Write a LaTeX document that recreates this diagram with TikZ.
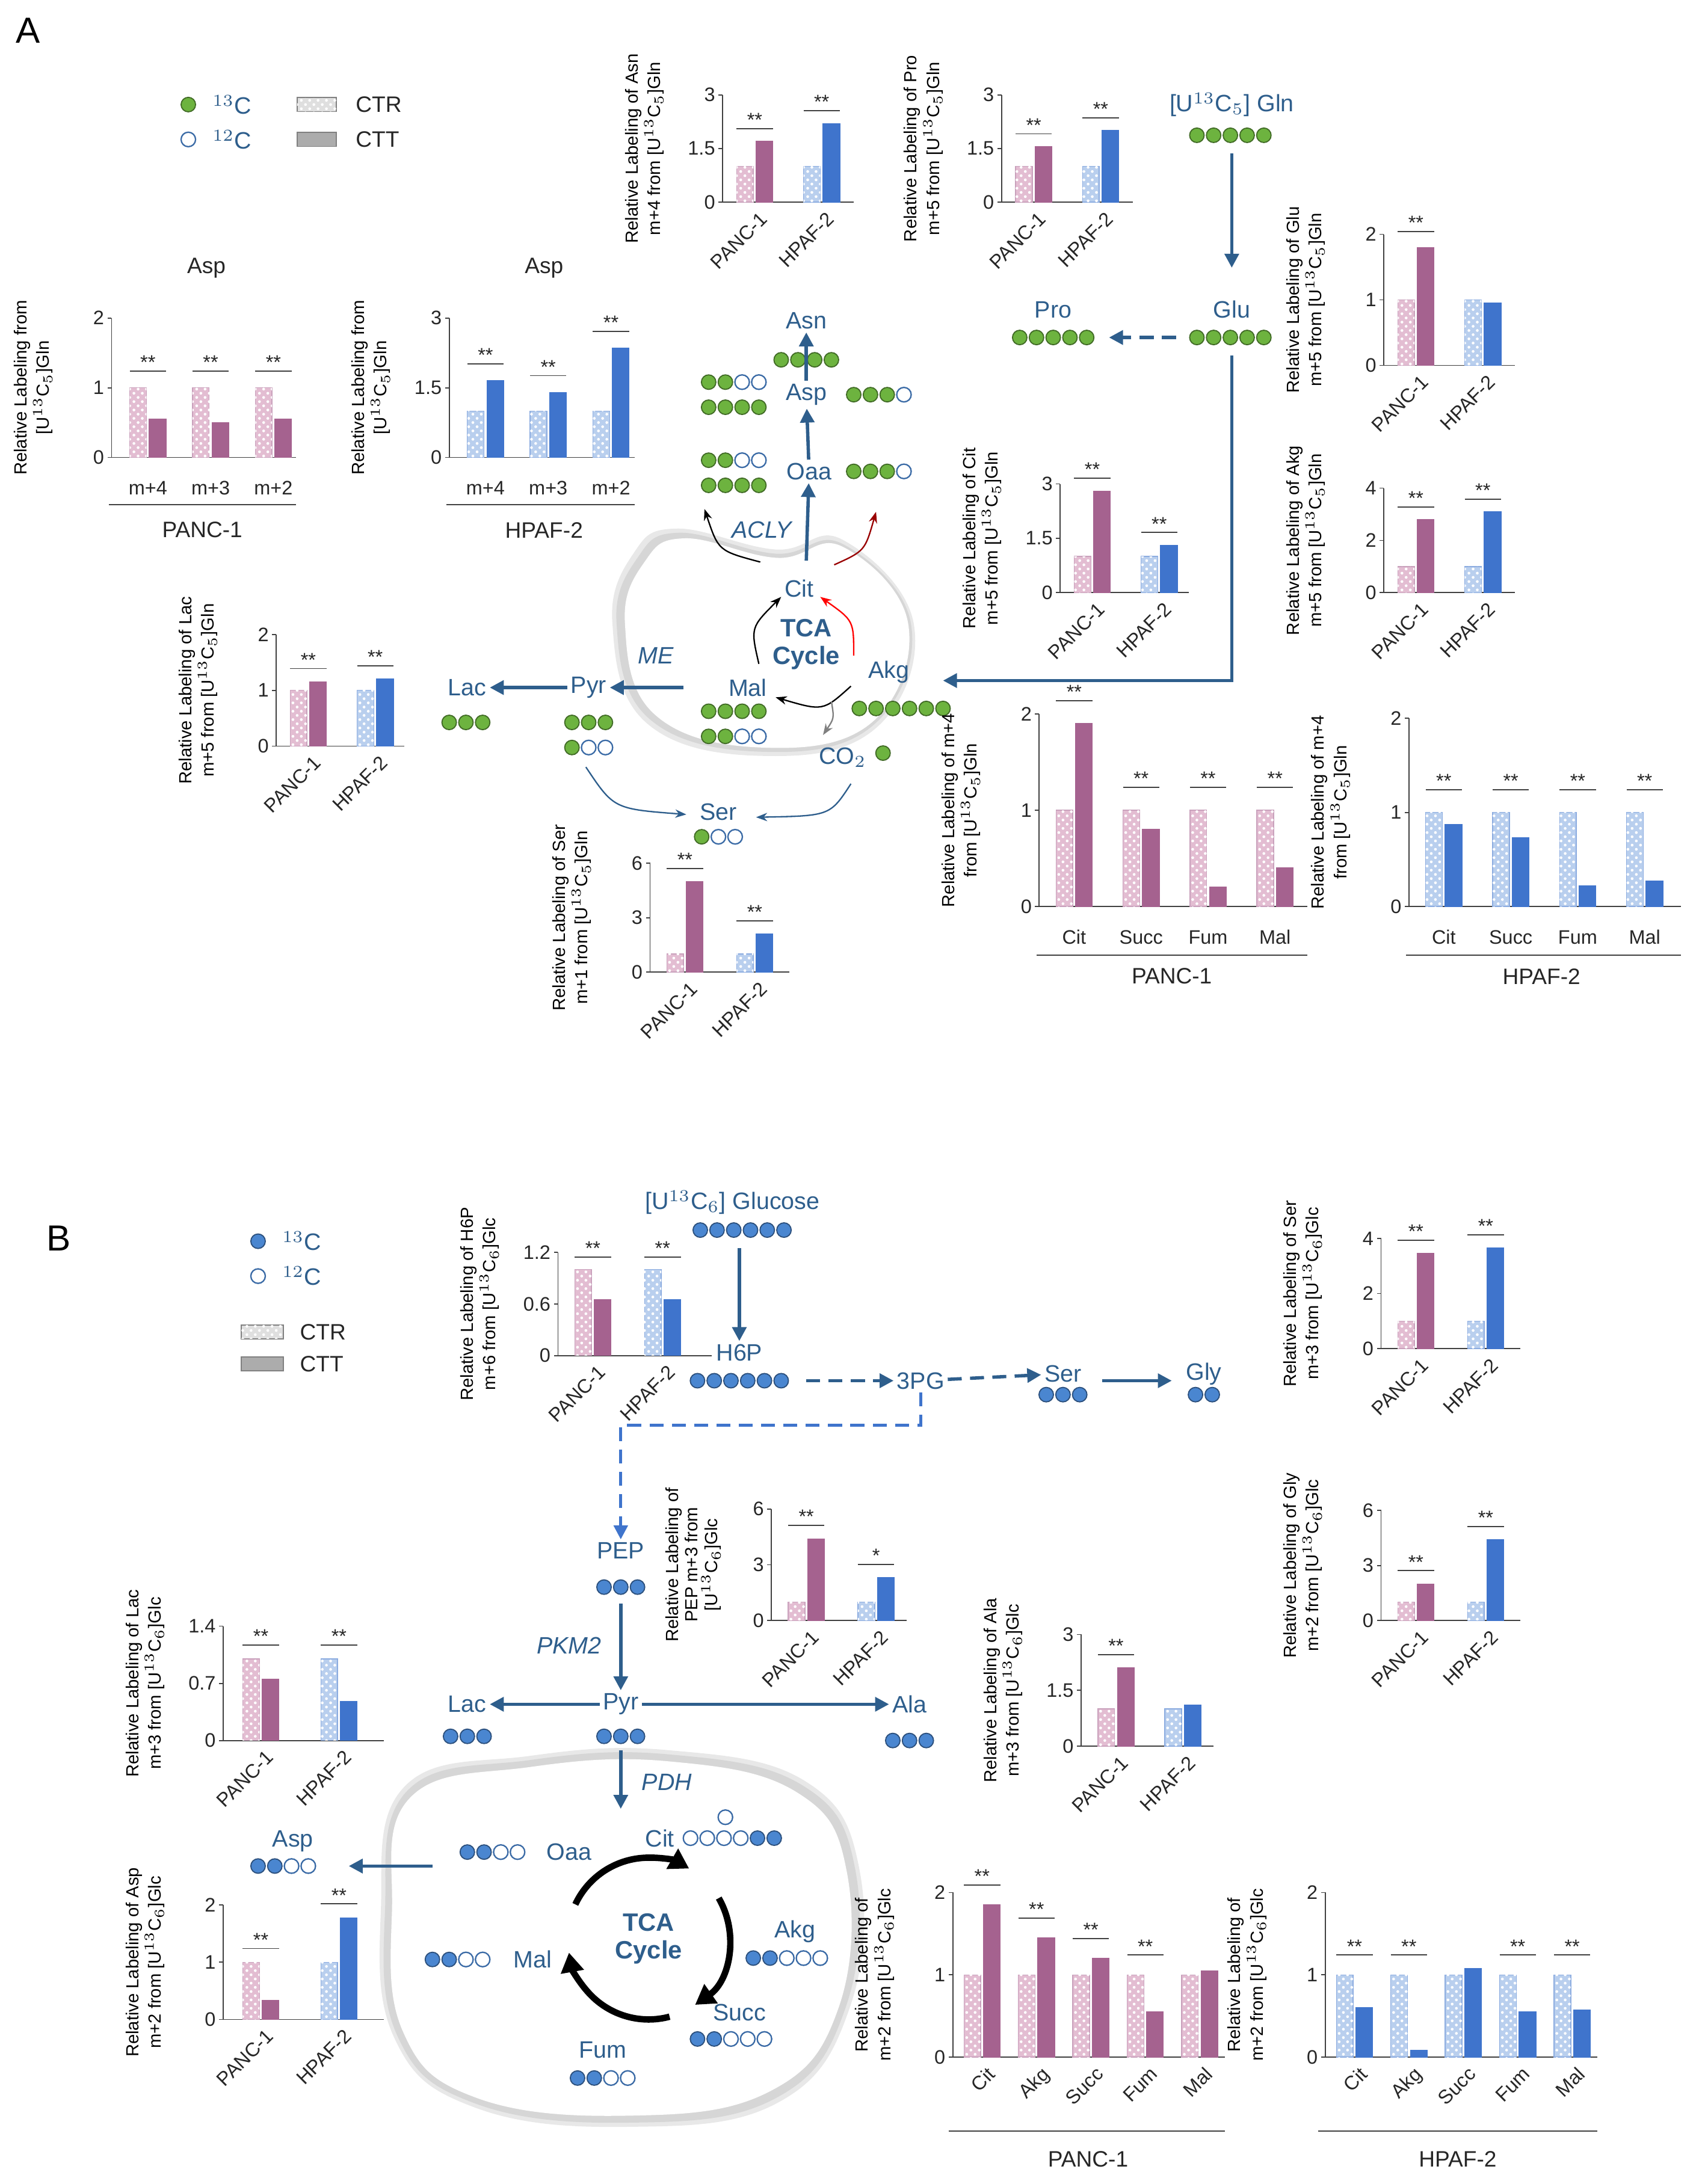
\documentclass[tikz,border=0pt]{standalone}
\usepackage{fontspec}\setmainfont{Liberation Sans}
\usetikzlibrary{arrows.meta,patterns}
\definecolor{tb}{HTML}{2E5E8C}\definecolor{gr}{HTML}{6DB33F}\definecolor{bl}{HTML}{4A86D0}
\definecolor{pk}{HTML}{E3BDD2}\definecolor{pu}{HTML}{A5628F}\definecolor{lb}{HTML}{B9CFEE}\definecolor{db}{HTML}{3F74CC}
\tikzset{ctrp/.style={fill=pk,draw=pu!60,line width=0.3pt,postaction={pattern=crosshatch dots,pattern color=white}},
cttp/.style={fill=pu,draw=pu,line width=0.3pt},
ctrb/.style={fill=lb,draw=db!60,line width=0.3pt,postaction={pattern=crosshatch dots,pattern color=white}},
cttb/.style={fill=db,draw=db,line width=0.3pt},
ax/.style={line width=0.4pt,black!75},tk/.style={font=\fontsize{7}{8}\selectfont,text=black!85},
yl/.style={font=\fontsize{6.3}{7}\selectfont,rotate=90,align=center},
pw/.style={text=tb,font=\fontsize{8.5}{10}\selectfont,inner sep=1pt},
fl/.style={-{Triangle[length=5pt,width=5pt]},tb,line width=1.2pt},
dl/.style={fl,dash pattern=on 5pt off 3pt},
thn/.style={-{Stealth[length=4pt]},line width=0.5pt}}
\newcommand\chart[8]{\begin{scope}[shift={(#1,#2)},x=0.5pt,y={#4*0.5pt/#5}]\def\ym{#5}
\draw[ax] (#3,0)--(0,0)--(0,#5);
\foreach \t in {#6}{\draw[ax] (0,\t)--(-3,\t) node[left,tk,inner sep=1pt]{\t};}
\node[yl] at (-56,#5/2) {#7};
#8\end{scope}}
\newcommand\pr[5]{\draw[ctr#4] (#1,0) rectangle (#1+12,#2); \draw[ctt#4] (#1+14,0) rectangle (#1+26,#3);
\if\relax\detokenize{#5}\relax\else\pgfmathsetmacro\sy{max(#2,#3)+0.12*\ym}
\draw[ax] (#1,\sy)--(#1+26,\sy) node[midway,above,inner sep=0.5pt,tk]{#5};\fi}
\newcommand\xl[2]{\node[tk,rotate=45,anchor=north east,inner sep=1pt,yshift=-2pt] at (#1,0) {#2};}
\newcommand\beads[4]{\foreach \b [count=\i from 0] in {#3}{\ifnum\b=1
\filldraw[fill=#4,draw=#4!60!black,line width=0.4pt] (#1+\i*12,#2) circle[radius=5.2];\else
\filldraw[fill=white,draw=bl!80!black,line width=0.5pt] (#1+\i*12,#2) circle[radius=5.2];\fi}}
\begin{document}
\begin{tikzpicture}[x=0.5pt,y=-0.5pt]
\useasboundingbox (0,0) rectangle (1220,1566);
% ===== A =====
\node[font=\fontsize{13}{14}\selectfont] (lA) at (20,22) {A};
\beads{135}{75}{1}{gr}\node[pw,anchor=west] (l13) at (150,75) {$^{13}$C};
\beads{135}{100}{0}{gr}\node[pw,anchor=west] (l12) at (150,100) {$^{12}$C};
\draw[fill=gray!25,draw=gray,postaction={pattern=crosshatch dots,pattern color=white}] (213,70) rectangle (241,80);\node[tk,anchor=west,font=\fontsize{8}{9}\selectfont] (lc1) at (248,75) {CTR};
\draw[fill=gray!65,draw=gray] (213,95) rectangle (241,105);\node[tk,anchor=west,font=\fontsize{8}{9}\selectfont] (lc2) at (248,100) {CTT};
% mito A
\fill[gray!18] plot[smooth cycle,tension=0.7] coordinates {(485,379)(556,394)(604,387)(655,447)(628,522)(546,542)(463,518)(439,447)(454,397)};
\fill[gray!32] plot[smooth cycle,tension=0.7] coordinates {(487,382)(556,397)(604,390)(653,447)(626,520)(546,539)(465,515)(442,447)(457,400)};
\fill[white] plot[smooth cycle,tension=0.7] coordinates {(491,386)(557,400)(604,392)(651,447)(625,518)(546,536)(469,512)(448,447)(462,403)};
\node[pw] (gln) at (883,75) {[U$^{13}$C$_5$] Gln};\beads{858}{97}{1,1,1,1,1}{gr}
\node[pw] (glu) at (883,222) {Glu};\beads{858}{242}{1,1,1,1,1}{gr}
\node[pw] (pro) at (755,222) {Pro};\beads{731}{242}{1,1,1,1,1}{gr}
\coordinate (g1) at (883,110);\coordinate (g2) at (883,192);\draw[fl] (g1)--(g2);
\coordinate (d1) at (843,242);\coordinate (d2) at (795,242);\draw[dl] (d1)--(d2);
\node[pw] (asn) at (578,230) {Asn};\beads{560}{258}{1,1,1,1}{gr}
\node[pw] (asp) at (578,283) {Asp};\beads{508}{274}{1,1,0,0}{gr}\beads{508}{292}{1,1,1,1}{gr}\beads{612}{283}{1,1,1,0}{gr}
\node[pw] (oaa) at (580,338) {Oaa};\beads{508}{330}{1,1,0,0}{gr}\beads{508}{348}{1,1,1,1}{gr}\beads{612}{338}{1,1,1,0}{gr}
\draw[fl] (asp)--(asn);\draw[fl] (oaa)--(asp);
\node[pw] (cit) at (573,422) {Cit};\coordinate (c0) at (578,402);\draw[fl] (c0)--(oaa);
\node[pw,font=\itshape\fontsize{8.5}{10}\selectfont] (acly) at (546,380) {ACLY};
\draw[thn] (545,403) .. controls (515,395) .. (505,365);
\draw[thn,red!60!black] (598,405) .. controls (620,395) .. (628,367);
\node[pw,font=\bfseries\fontsize{9}{10}\selectfont,align=center] (tca) at (578,462) {TCA\\Cycle};
\node[pw] (akg) at (637,482) {Akg};\beads{616}{508}{1,1,1,1,1,1}{gr}
\node[pw] (mal) at (536,493) {Mal};\beads{508}{510}{1,1,1,1}{gr}\beads{508}{528}{1,1,0,0}{gr}
\draw[thn] (544,476) .. controls (538,450) .. (560,428);
\draw[thn,red] (612,470) .. controls (612,445) .. (588,428);
\draw[thn] (610,492) .. controls (590,510) .. (556,500);
\draw[thn,gray] (596,503) .. controls (598,515) .. (590,527);
\node[pw] (co2) at (604,543) {CO$_2$};\beads{633}{540}{1}{gr}
\draw[fl] (883,255)--(883,488)--(676,488);
\node[pw,font=\itshape\fontsize{8.5}{10}\selectfont] (me) at (470,470) {ME};
\node[pw] (pyr) at (422,493) {Pyr};\beads{410}{518}{1,1,1}{gr}\beads{410}{536}{1,0,0}{gr}
\node[pw] (lac) at (335,493) {Lac};\beads{322}{518}{1,1,1}{gr}
\coordinate (m1) at (490,493);\draw[fl] (m1)--(pyr);\draw[fl] (pyr)--(lac);
\node[pw] (ser) at (515,582) {Ser};\beads{503}{600}{1,0,0}{gr}
\draw[thn,tb] (420,550) .. controls (440,580) .. (492,584);
\draw[thn,tb] (610,562) .. controls (595,585) .. (542,586);
% charts A
\node[tk,font=\fontsize{8}{9}\selectfont] (t1) at (148,192) {Asp};
\chart{80}{328}{132}{100}{2}{0,1,2}{Relative Labeling from\\{}[U$^{13}$C$_5$]Gln}{\pr{13}{1}{0.55}{p}{**}\pr{58}{1}{0.5}{p}{**}\pr{103}{1}{0.55}{p}{**}}
\node[tk] at (106,350) {m+4};\node[tk] at (151,350) {m+3};\node[tk] at (196,350) {m+2};
\draw[ax] (78,362)--(212,362);\node[tk,font=\fontsize{8}{9}\selectfont] (p1) at (145,380) {PANC-1};
\node[tk,font=\fontsize{8}{9}\selectfont] (t2) at (390,192) {Asp};
\chart{322}{328}{133}{100}{3}{0,1.5,3}{Relative Labeling from\\{}[U$^{13}$C$_5$]Gln}{\pr{13}{1}{1.65}{b}{**}\pr{58}{1}{1.4}{b}{**}\pr{103}{1}{2.35}{b}{**}}
\node[tk] at (348,350) {m+4};\node[tk] at (393,350) {m+3};\node[tk] at (438,350) {m+2};
\draw[ax] (320,362)--(455,362);\node[tk,font=\fontsize{8}{9}\selectfont] (h1) at (390,380) {HPAF-2};
\chart{518}{145}{94}{77}{3}{0,1.5,3}{Relative Labeling of Asn\\m+4 from [U$^{13}$C$_5$]Gln}{\pr{10}{1}{1.7}{p}{**}\pr{58}{1}{2.2}{b}{**}\xl{23}{PANC-1}\xl{71}{HPAF-2}}
\chart{718}{145}{94}{77}{3}{0,1.5,3}{Relative Labeling of Pro\\m+5 from [U$^{13}$C$_5$]Gln}{\pr{10}{1}{1.55}{p}{**}\pr{58}{1}{2.0}{b}{**}\xl{23}{PANC-1}\xl{71}{HPAF-2}}
\chart{992}{262}{94}{94}{2}{0,1,2}{Relative Labeling of Glu\\m+5 from [U$^{13}$C$_5$]Gln}{\pr{10}{1}{1.8}{p}{**}\pr{58}{1}{0.95}{b}{}\xl{23}{PANC-1}\xl{71}{HPAF-2}}
\chart{760}{425}{92}{78}{3}{0,1.5,3}{Relative Labeling of Cit\\m+5 from [U$^{13}$C$_5$]Gln}{\pr{10}{1}{2.8}{p}{**}\pr{58}{1}{1.3}{b}{**}\xl{23}{PANC-1}\xl{71}{HPAF-2}}
\chart{992}{425}{94}{75}{4}{0,2,4}{Relative Labeling of Akg\\m+5 from [U$^{13}$C$_5$]Gln}{\pr{10}{1}{2.8}{p}{**}\pr{58}{1}{3.1}{b}{**}\xl{23}{PANC-1}\xl{71}{HPAF-2}}
\chart{198}{535}{92}{80}{2}{0,1,2}{Relative Labeling of Lac\\m+5 from [U$^{13}$C$_5$]Gln}{\pr{10}{1}{1.15}{p}{**}\pr{58}{1}{1.2}{b}{**}\xl{23}{PANC-1}\xl{71}{HPAF-2}}
\chart{466}{697}{100}{78}{6}{0,3,6}{Relative Labeling of Ser\\m+1 from [U$^{13}$C$_5$]Gln}{\pr{12}{1}{5}{p}{**}\pr{62}{1}{2.1}{b}{**}\xl{25}{PANC-1}\xl{75}{HPAF-2}}
\chart{745}{650}{192}{138}{2}{0,1,2}{Relative Labeling of m+4\\from [U$^{13}$C$_5$]Gln}{\pr{12}{1}{1.9}{p}{**}\pr{60}{1}{0.8}{p}{**}\pr{108}{1}{0.2}{p}{**}\pr{156}{1}{0.4}{p}{**}}
\node[tk] at (770,672) {Cit};\node[tk] at (818,672) {Succ};\node[tk] at (866,672) {Fum};\node[tk] at (914,672) {Mal};
\draw[ax] (743,685)--(937,685);\node[tk,font=\fontsize{8}{9}\selectfont] (p2) at (840,700) {PANC-1};
\chart{1010}{650}{195}{135}{2}{0,1,2}{Relative Labeling of m+4\\from [U$^{13}$C$_5$]Gln}{\pr{12}{1}{0.87}{b}{**}\pr{60}{1}{0.73}{b}{**}\pr{108}{1}{0.22}{b}{**}\pr{156}{1}{0.27}{b}{**}}
\node[tk] at (1035,672) {Cit};\node[tk] at (1083,672) {Succ};\node[tk] at (1131,672) {Fum};\node[tk] at (1179,672) {Mal};
\draw[ax] (1008,685)--(1205,685);\node[tk,font=\fontsize{8}{9}\selectfont] (h2) at (1105,700) {HPAF-2};
% ===== B =====
\node[font=\fontsize{13}{14}\selectfont] (lB) at (42,888) {B};
\beads{185}{890}{1}{bl}\node[pw,anchor=west] (m13) at (200,890) {$^{13}$C};
\beads{185}{915}{0}{bl}\node[pw,anchor=west] (m12) at (200,915) {$^{12}$C};
\draw[fill=gray!25,draw=gray,postaction={pattern=crosshatch dots,pattern color=white}] (173,950) rectangle (203,960);\node[tk,anchor=west,font=\fontsize{8}{9}\selectfont] (mc1) at (208,955) {CTR};
\draw[fill=gray!65,draw=gray] (173,973) rectangle (203,983);\node[tk,anchor=west,font=\fontsize{8}{9}\selectfont] (mc2) at (208,978) {CTT};
\fill[gray!18] plot[smooth cycle,tension=0.7] coordinates {(290,1281)(380,1259)(480,1255)(577,1277)(616,1340)(609,1440)(557,1508)(450,1525)(340,1511)(283,1462)(273,1370)};
\fill[gray!32] plot[smooth cycle,tension=0.7] coordinates {(292,1284)(380,1262)(480,1258)(575,1280)(613,1340)(606,1440)(555,1505)(450,1522)(340,1508)(285,1460)(276,1370)};
\fill[white] plot[smooth cycle,tension=0.7] coordinates {(294,1289)(380,1267)(480,1263)(571,1285)(607,1342)(601,1440)(551,1500)(450,1517)(341,1504)(289,1457)(281,1370)};
\node[pw] (glc) at (525,862) {[U$^{13}$C$_6$] Glucose};\beads{502}{882}{1,1,1,1,1,1}{bl}
\node[pw] (h6p) at (530,970) {H6P};\beads{500}{990}{1,1,1,1,1,1}{bl}
\coordinate (q1) at (530,895);\draw[fl] (q1)--(h6p);
\node[pw] (pg) at (660,990) {3PG};
\coordinate (q2) at (578,990);\draw[dl] (q2)--(pg);
\node[pw] (serb) at (762,985) {Ser};\beads{750}{1000}{1,1,1}{bl}
\draw[dl] (pg)--(serb);
\node[pw] (gly) at (863,985) {Gly};\beads{857}{1000}{1,1}{bl}
\coordinate (q3) at (790,990);\coordinate (q3b) at (840,990);\draw[fl] (q3)--(q3b);
\node[pw] (pep) at (445,1112) {PEP};\beads{433}{1138}{1,1,1}{bl}
\draw[dl,line width=1pt,db] (pg.south)--(660,1022)--(445,1022)--(pep.north);
\node[pw] (pyrb) at (445,1222) {Pyr};\beads{433}{1245}{1,1,1}{bl}
\coordinate (q4) at (445,1150);\draw[fl] (q4)--(pyrb);
\node[pw,font=\itshape\fontsize{8.5}{10}\selectfont] (pkm) at (408,1180) {PKM2};
\node[pw] (lacb) at (335,1222) {Lac};\beads{323}{1245}{1,1,1}{bl}\draw[fl] (pyrb)--(lacb);
\node[pw] (ala) at (652,1222) {Ala};\beads{640}{1248}{1,1,1}{bl}\draw[fl] (pyrb)--(ala);
\coordinate (q5) at (445,1255);\coordinate (q6) at (445,1297);\draw[fl] (q5)--(q6);
\node[pw,font=\itshape\fontsize{8.5}{10}\selectfont] (pdh) at (478,1278) {PDH};
\node[pw] (citb) at (473,1318) {Cit};\beads{495}{1318}{0,0,0,0,1,1}{bl}\beads{520}{1303}{0}{bl}
\node[pw] (oaab) at (408,1328) {Oaa};\beads{335}{1328}{1,1,0,0}{bl}
\node[pw] (aspb) at (210,1320) {Asp};\beads{185}{1338}{1,1,0,0}{bl}
\coordinate (q7) at (310,1338);\coordinate (q8) at (250,1338);\draw[fl] (q7)--(q8);
\node[pw] (malb) at (382,1405) {Mal};\beads{310}{1405}{1,1,0,0}{bl}
\node[pw] (akgb) at (570,1385) {Akg};\beads{540}{1404}{1,1,0,0,0}{bl}
\node[pw] (succ) at (530,1443) {Succ};\beads{500}{1462}{1,1,0,0,0}{bl}
\node[pw] (fum) at (432,1470) {Fum};\beads{414}{1490}{1,1,0,0}{bl}
\node[pw,font=\bfseries\fontsize{9}{10}\selectfont,align=center] (tcab) at (465,1390) {TCA\\Cycle};
\coordinate (cc) at (465,1390);
\draw[line width=2.3pt,-{Triangle[length=7pt,width=8pt]}] ([shift={(205:58)}]cc) arc[start angle=205,end angle=300,radius=58];
\draw[line width=2.3pt,-{Triangle[length=7pt,width=8pt]}] ([shift={(330:58)}]cc) arc[start angle=330,end angle=415,radius=58];
\draw[line width=2.3pt,-{Triangle[length=7pt,width=8pt]}] ([shift={(75:58)}]cc) arc[start angle=75,end angle=170,radius=58];
% charts B
\chart{400}{972}{110}{74}{1.2}{0,0.6,1.2}{Relative Labeling of H6P\\m+6 from [U$^{13}$C$_6$]Glc}{\pr{12}{1}{0.65}{p}{**}\pr{62}{1}{0.65}{b}{**}\xl{25}{PANC-1}\xl{75}{HPAF-2}}
\chart{990}{967}{100}{79}{4}{0,2,4}{Relative Labeling of Ser\\m+3 from [U$^{13}$C$_6$]Glc}{\pr{12}{1}{3.45}{p}{**}\pr{62}{1}{3.65}{b}{**}\xl{25}{PANC-1}\xl{75}{HPAF-2}}
\chart{553}{1162}{97}{80}{6}{0,3,6}{Relative Labeling of\\PEP m+3 from\\{}[U$^{13}$C$_6$]Glc}{\pr{12}{1}{4.4}{p}{**}\pr{62}{1}{2.3}{b}{*}\xl{25}{PANC-1}\xl{75}{HPAF-2}}
\chart{990}{1162}{100}{79}{6}{0,3,6}{Relative Labeling of Gly\\m+2 from [U$^{13}$C$_6$]Glc}{\pr{12}{1}{2}{p}{**}\pr{62}{1}{4.4}{b}{**}\xl{25}{PANC-1}\xl{75}{HPAF-2}}
\chart{160}{1248}{115}{82}{1.4}{0,0.7,1.4}{Relative Labeling of Lac\\m+3 from [U$^{13}$C$_6$]Glc}{\pr{14}{1}{0.75}{p}{**}\pr{70}{1}{0.48}{b}{**}\xl{27}{PANC-1}\xl{83}{HPAF-2}}
\chart{775}{1252}{95}{80}{3}{0,1.5,3}{Relative Labeling of Ala\\m+3 from [U$^{13}$C$_6$]Glc}{\pr{12}{1}{2.1}{p}{**}\pr{60}{1}{1.1}{b}{}\xl{25}{PANC-1}\xl{73}{HPAF-2}}
\chart{160}{1448}{115}{82}{2}{0,1,2}{Relative Labeling of Asp\\m+2 from [U$^{13}$C$_6$]Glc}{\pr{14}{1}{0.33}{p}{**}\pr{70}{1}{1.78}{b}{**}\xl{27}{PANC-1}\xl{83}{HPAF-2}}
\chart{683}{1475}{195}{118}{2}{0,1,2}{Relative Labeling of\\m+2 from [U$^{13}$C$_6$]Glc}{\pr{8}{1}{1.85}{p}{**}\pr{47}{1}{1.45}{p}{**}\pr{86}{1}{1.2}{p}{**}\pr{125}{1}{0.55}{p}{**}\pr{164}{1}{1.05}{p}{}
\xl{21}{Cit}\xl{60}{Akg}\xl{99}{Succ}\xl{138}{Fum}\xl{177}{Mal}}
\draw[ax] (680,1528)--(878,1528);\node[tk,font=\fontsize{8}{9}\selectfont] (p3) at (780,1548) {PANC-1};
\chart{950}{1475}{195}{118}{2}{0,1,2}{Relative Labeling of\\m+2 from [U$^{13}$C$_6$]Glc}{\pr{8}{1}{0.6}{b}{**}\pr{47}{1}{0.08}{b}{**}\pr{86}{1}{1.08}{b}{}\pr{125}{1}{0.55}{b}{**}\pr{164}{1}{0.57}{b}{**}
\xl{21}{Cit}\xl{60}{Akg}\xl{99}{Succ}\xl{138}{Fum}\xl{177}{Mal}}
\draw[ax] (945,1528)--(1145,1528);\node[tk,font=\fontsize{8}{9}\selectfont] (h3) at (1045,1548) {HPAF-2};
\end{tikzpicture}
\end{document}
